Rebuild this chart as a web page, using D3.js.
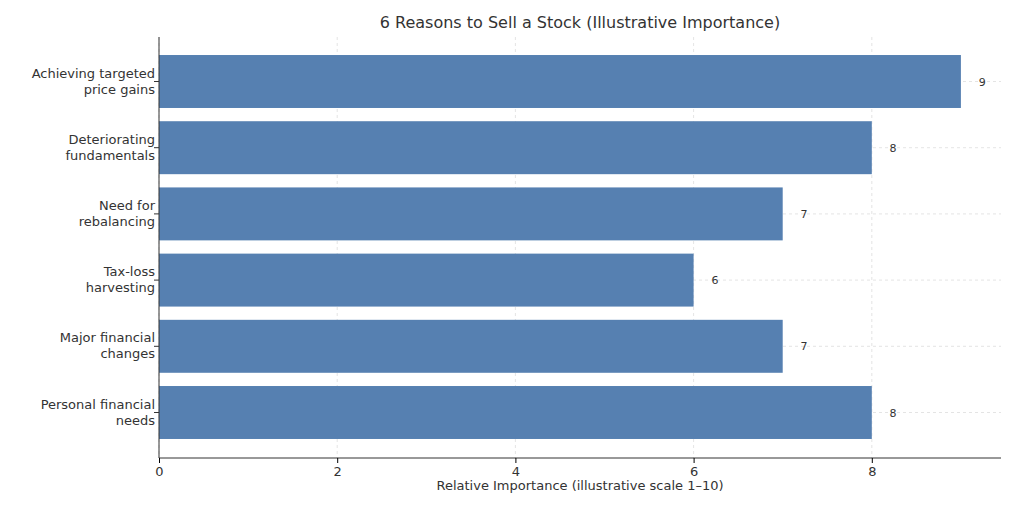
<!DOCTYPE html><html><head><meta charset="utf-8">
<script src="https://cdn.jsdelivr.net/npm/d3@7"></script>
<style>body{margin:0;background:#fff}text{font-family:"DejaVu Sans",sans-serif;fill:#333}</style></head><body>
<svg id="c" width="1016" height="508"></svg>
<script>
const categories=[["Achieving targeted","price gains"],["Deteriorating","fundamentals"],["Need for","rebalancing"],["Tax-loss","harvesting"],["Major financial","changes"],["Personal financial","needs"]];
const values=[9,8,7,6,7,8];
const xTicks=[0,2,4,6,8];
const svg=d3.select("#c");
const L=159,R=1001,T=37,B=458;
const x=d3.scaleLinear().domain([0,9.45]).range([L,R]);
const y=d3.scaleBand().domain(d3.range(6)).range([48.4,445.6]).paddingInner(0.2).paddingOuter(0.1);
const g=svg.append("g");
xTicks.forEach(t=>g.append("line").attr("x1",x(t)).attr("x2",x(t)).attr("y1",T).attr("y2",B).attr("stroke","#ddd").attr("stroke-dasharray","3,3").attr("stroke-width",0.8));
d3.range(6).forEach(i=>{const c=y(i)+y.bandwidth()/2;g.append("line").attr("x1",L).attr("x2",R).attr("y1",c).attr("y2",c).attr("stroke","#ddd").attr("stroke-dasharray","3,3").attr("stroke-width",0.8);});
g.selectAll("rect").data(values).join("rect").attr("x",x(0)).attr("y",(d,i)=>y(i)).attr("width",d=>x(d)-x(0)).attr("height",y.bandwidth()).attr("fill","#5680b1");
g.selectAll("text.v").data(values).join("text").attr("class","v").attr("x",d=>x(d+0.2)).attr("y",(d,i)=>y(i)+y.bandwidth()/2+4).attr("font-size",11).text(d=>d);
const xa=svg.append("g").attr("transform",`translate(0,${B})`).call(d3.axisBottom(x).tickValues(xTicks).tickSize(5).tickPadding(4));
xa.select(".domain").attr("d",`M${L},0H${R}`).attr("stroke","#333");
xa.selectAll("text").attr("font-size",13).style("font-family","DejaVu Sans");
svg.append("line").attr("x1",L).attr("x2",L).attr("y1",T).attr("y2",B).attr("stroke","#333");
categories.forEach((c,i)=>{const cy=y(i)+y.bandwidth()/2;
 svg.append("line").attr("x1",L-5).attr("x2",L).attr("y1",cy).attr("y2",cy).attr("stroke","#333");
 const t=svg.append("text").attr("text-anchor","end").attr("font-size",13);
 c.forEach((s,j)=>t.append("tspan").attr("x",L-4).attr("y",cy+(j-0.5)*16+4).text(s));});
svg.append("text").attr("x",(L+R)/2).attr("y",490).attr("text-anchor","middle").attr("font-size",13).text("Relative Importance (illustrative scale 1–10)");
svg.append("text").attr("x",(L+R)/2).attr("y",28).attr("text-anchor","middle").attr("font-size",16).text("6 Reasons to Sell a Stock (Illustrative Importance)");
</script></body></html>
